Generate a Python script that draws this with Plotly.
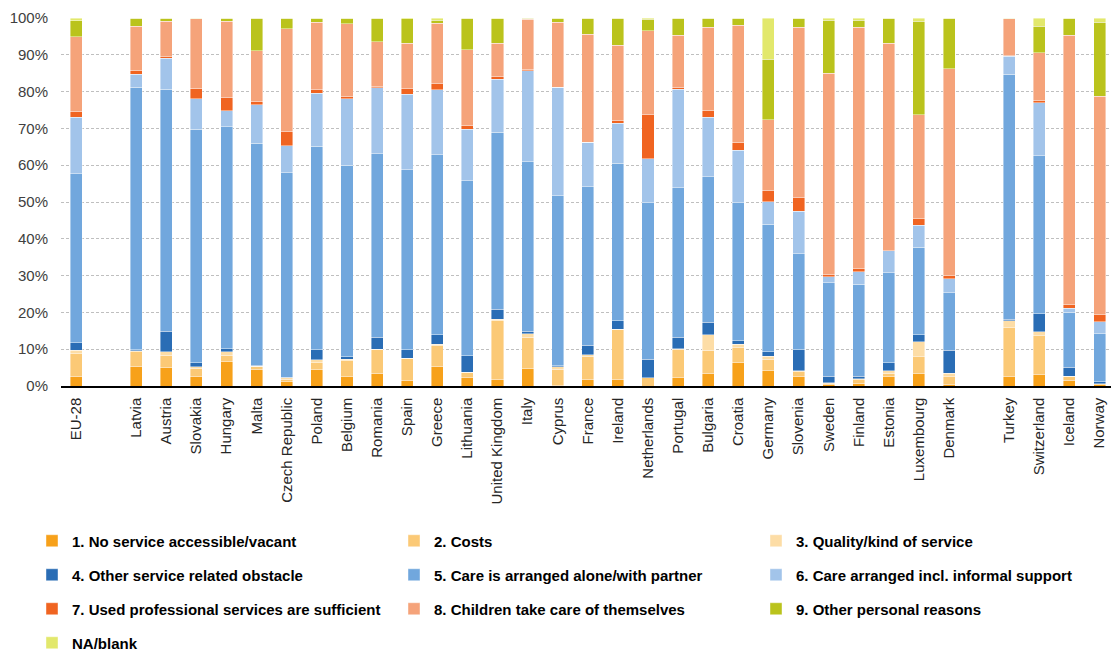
import plotly.graph_objects as go

countries = ["EU-28", "Latvia", "Austria", "Slovakia", "Hungary", "Malta", "Czech Republic",
             "Poland", "Belgium", "Romania", "Spain", "Greece", "Lithuania", "United Kingdom",
             "Italy", "Cyprus", "France", "Ireland", "Netherlands", "Portugal", "Bulgaria",
             "Croatia", "Germany", "Slovenia", "Sweden", "Finland", "Estonia", "Luxembourg",
             "Denmark", "Turkey", "Switzerland", "Iceland", "Norway"]

# axis order with blank separator slots
category_order = ["EU-28", " "] + countries[1:29] + ["  "] + countries[29:]

series_names = ["1. No service accessible/vacant", "2. Costs", "3. Quality/kind of service",
                "4. Other service related obstacle", "5. Care is arranged alone/with partner",
                "6. Care arranged incl. informal support",
                "7. Used professional services are sufficient",
                "8. Children take care of themselves", "9. Other personal reasons", "NA/blank"]

s1_no_service = [2.7, 5.4, 5.0, 2.5, 6.6, 4.4, 1.1, 4.4, 2.5, 3.4, 1.5, 5.4, 2.2, 1.8, 4.7, 0.2,
                 1.8, 1.8, 0.0, 2.2, 3.4, 6.3, 4.1, 2.7, 0.5, 0.8, 2.5, 3.4, 0.5, 2.7, 3.2, 1.5, 0.4]
s2_costs = [6.1, 3.9, 3.3, 2.3, 1.8, 0.8, 0.8, 1.9, 4.4, 6.5, 5.9, 5.5, 1.4, 15.9, 8.6, 4.3,
            6.3, 13.5, 2.2, 7.8, 6.3, 4.1, 3.2, 1.3, 0.3, 0.9, 1.0, 4.5, 2.0, 13.1, 10.4, 1.0, 0.2]
s3_quality = [0.9, 0.3, 1.0, 0.5, 0.9, 0.2, 0.3, 0.9, 0.4, 0.1, 0.1, 0.4, 0.1, 0.4, 0.9, 0.8,
              0.4, 0.1, 0.0, 0.1, 4.2, 0.9, 0.8, 0.1, 0.1, 0.3, 0.6, 4.1, 0.9, 1.9, 1.2, 0.2, 0.0]
s4_other_obstacle = [2.0, 0.2, 5.6, 1.0, 0.8, 0.2, 0.2, 2.6, 0.6, 3.2, 2.3, 2.6, 4.5, 2.8, 0.7,
                     0.2, 2.6, 2.3, 5.1, 3.1, 3.4, 1.0, 1.2, 5.7, 1.8, 0.7, 2.2, 1.9, 6.3, 0.4,
                     4.9, 2.4, 0.5]
s5_alone = [46.0, 71.4, 65.7, 63.5, 60.3, 60.4, 55.6, 55.3, 52.1, 49.9, 49.0, 48.9, 47.6, 48.0,
            46.0, 46.2, 43.1, 42.8, 42.5, 40.7, 39.5, 37.5, 34.7, 26.2, 25.4, 24.9, 24.5, 23.8,
            15.6, 66.6, 42.9, 15.0, 13.1]
s6_informal = [15.3, 3.5, 8.5, 8.2, 4.4, 10.4, 7.3, 14.5, 18.0, 18.0, 20.5, 17.7, 14.0, 14.5,
               24.8, 29.5, 12.1, 10.9, 12.0, 26.8, 16.2, 14.2, 6.1, 11.5, 1.6, 3.4, 6.0, 6.0,
               3.8, 4.9, 14.4, 1.0, 3.2]
s7_professional = [1.6, 1.1, 0.4, 2.9, 3.5, 1.0, 3.8, 0.9, 0.7, 0.2, 1.5, 1.7, 1.0, 0.7, 0.4,
                   0.0, 0.0, 0.7, 11.9, 0.5, 2.0, 2.2, 2.9, 3.7, 0.7, 0.8, 0.0, 1.7, 0.9, 0.2,
                   0.6, 1.0, 1.9]
s8_children = [20.3, 11.9, 9.6, 18.9, 20.8, 13.7, 28.0, 18.3, 19.7, 12.3, 12.3, 16.4, 20.6, 9.1,
               13.6, 17.6, 29.3, 20.5, 22.9, 14.1, 22.5, 31.8, 19.3, 46.3, 54.6, 65.7, 56.4,
               28.3, 56.2, 10.0, 12.9, 73.2, 59.4]
s9_personal = [4.4, 2.3, 0.9, 0.2, 0.9, 8.9, 2.9, 1.2, 1.6, 6.4, 6.7, 0.8, 8.6, 6.6, 0.3, 1.2,
               4.4, 7.4, 3.1, 4.7, 2.5, 2.0, 16.5, 2.5, 14.4, 1.9, 6.8, 25.4, 13.8, 0.2, 7.2,
               4.7, 20.1]
s10_na = [0.7, 0.0, 0.0, 0.0, 0.0, 0.0, 0.0, 0.0, 0.0, 0.0, 0.3, 0.6, 0.0, 0.2, 0.0, 0.0, 0.0,
          0.0, 0.3, 0.0, 0.0, 0.0, 11.2, 0.0, 0.6, 0.6, 0.0, 0.9, 0.0, 0.0, 2.3, 0.0, 1.2]

series_values = [s1_no_service, s2_costs, s3_quality, s4_other_obstacle, s5_alone, s6_informal,
                 s7_professional, s8_children, s9_personal, s10_na]

colors = ["#F7A11A", "#FBC976", "#FDDDA6", "#2A6DB5", "#71A7DD", "#A2C4EA",
          "#F06421", "#F5A37A", "#BAC31C", "#E2E86C"]

W, H = 1111, 653
TOP = 18.3
BOTTOM = 385.7

# legend grid: 3 columns, rows of 33.8 px
col_text_x = [71, 433, 795]
row_center_y = [541, 575, 609, 643]


def leg(i):
    r, c = divmod(i, 3)
    return dict(orientation="h", xref="container", yref="container",
                x=(col_text_x[c] - 39) / W, y=1 - row_center_y[r] / H,
                xanchor="left", yanchor="middle",
                font=dict(family="Liberation Sans, Arial, sans-serif", size=15,
                          color="#000000", weight="bold"),
                bgcolor="rgba(0,0,0,0)", itemclick=False, itemdoubleclick=False)


fig = go.Figure()
legend_layout = {}
for i, (name, vals, col) in enumerate(zip(series_names, series_values, colors)):
    lid = "legend" if i == 0 else f"legend{i + 1}"
    legend_layout[lid] = leg(i)
    fig.add_trace(go.Bar(
        x=countries, y=vals, name=name, legend=lid, showlegend=True,
        marker=dict(color=col, line=dict(color="rgba(255,255,255,0.7)", width=0.6)),
    ))

fig.update_layout(
    showlegend=True,
    barmode="stack",
    bargap=0.6,
    width=W, height=H,
    margin=dict(l=61, r=0, t=TOP, b=H - BOTTOM),
    paper_bgcolor="white", plot_bgcolor="white",
    font=dict(family="Liberation Sans, Arial, sans-serif", color="#262626"),
    xaxis=dict(type="category", categoryorder="array", categoryarray=category_order,
               range=[-0.5, 34.38], tickangle=-90, showgrid=False,
               showline=True, linecolor="#000000", linewidth=1.5, ticks="",
               tickfont=dict(size=15, color="#262626"), ticklabelstandoff=4),
    yaxis=dict(range=[0, 100], dtick=10, ticksuffix="%", showgrid=True,
               gridcolor="#BFBFBF", griddash="3px,2px", gridwidth=1,
               zeroline=False, showline=False, ticks="",
               tickfont=dict(size=15, color="#404040"), ticklabelstandoff=12),
    **legend_layout,
)

fig.write_html("out.html", config={"displayModeBar": False},
               post_script="document.body.style.margin='0';document.body.style.overflow='hidden';")
